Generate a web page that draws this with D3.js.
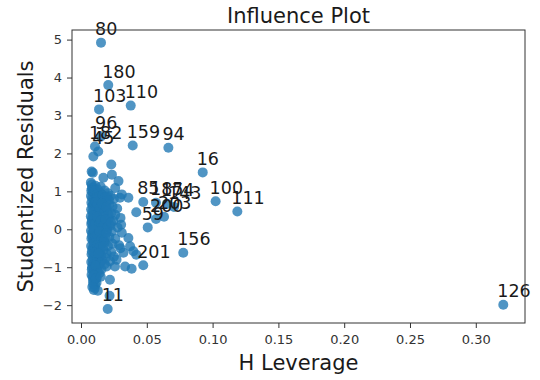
<!DOCTYPE html>
<html><head><meta charset="utf-8">
<script src="https://cdn.jsdelivr.net/npm/d3@7"></script>
<style>body{margin:0;background:#fff} svg{display:block}</style>
</head><body>
<svg id="c" width="540" height="380"></svg>
<script>
// unlabeled observations (H leverage, studentized residual)
const clusterLev = [0.0081,0.0094,0.0090,0.0230,0.0170,0.0235,0.0285,0.0260,0.0310,0.0360,0.0296,0.0420,
0.0075,0.0082,0.0095,0.0110,0.0128,0.0078,0.0088,0.0102,0.0145,0.0180,0.0205,0.0225,0.0250,
0.0076,0.0085,0.0098,0.0115,0.0135,0.0160,0.0190,0.0215,0.0240,0.0275,
0.0079,0.0090,0.0105,0.0122,0.0142,0.0170,0.0200,0.0230,0.0260,0.0300,
0.0077,0.0087,0.0100,0.0113,0.0130,0.0152,0.0178,0.0210,0.0245,
0.0075,0.0084,0.0096,0.0108,0.0120,0.0138,0.0162,0.0190,0.0225,0.0278,0.0305,
0.0078,0.0089,0.0101,0.0117,0.0133,0.0148,0.0172,0.0200,0.0235,0.0310,
0.0076,0.0086,0.0097,0.0110,0.0125,0.0142,0.0165,0.0185,0.0215,0.0260,0.0360,
0.0079,0.0091,0.0104,0.0118,0.0136,0.0155,0.0180,0.0205,0.0240,0.0290,0.0373,
0.0077,0.0088,0.0100,0.0114,0.0128,0.0146,0.0170,0.0195,0.0230,0.0322,0.0398,0.0420,
0.0080,0.0093,0.0106,0.0121,0.0140,0.0160,0.0188,0.0220,
0.0078,0.0090,0.0103,0.0118,0.0135,0.0195,0.0258,0.0335,0.0385,
0.0082,0.0095,0.0110,0.0128,0.0155,0.0088,0.0100,0.0120,0.0220,0.0093,0.0118,0.0105,0.0128,0.0217,
0.0083,0.0092,0.0107,0.0124,0.0139,0.0150,0.0165,0.0183,0.0198,0.0212,
0.0087,0.0099,0.0112,0.0126,0.0143,0.0158,0.0176,0.0193,0.0208,
0.0081,0.0094,0.0108,0.0123,0.0137,0.0151,0.0168,0.0186,0.0202,0.0228,
0.0085,0.0097,0.0111,0.0125,0.0141,0.0157,0.0174,0.0192,
0.0083,0.0096,0.0109,0.0124,0.0139,0.0153,0.0171,0.0089,0.0102,0.0116,0.0132,0.0148,
0.0084,0.0098,0.0112,0.0140,0.0180,0.0250,0.0270,0.0300,
0.0080,0.0091,0.0099,0.0108,0.0113,0.0086,0.0097,0.0150];
const clusterRes = [1.52,1.92,1.49,1.71,1.36,1.44,1.27,1.09,0.92,0.83,0.83,0.45,
1.23,1.18,1.10,1.15,1.05,1.02,0.98,0.94,0.97,1.02,0.95,0.88,0.80,
0.88,0.82,0.78,0.85,0.74,0.80,0.72,0.66,0.60,0.55,
0.70,0.64,0.62,0.58,0.63,0.55,0.50,0.42,0.38,0.30,
0.52,0.46,0.44,0.40,0.45,0.36,0.32,0.28,0.22,
0.34,0.28,0.24,0.30,0.20,0.26,0.18,0.14,0.10,0.05,0.12,
0.14,0.08,0.11,0.04,0.09,0.00,0.03,-0.02,-0.06,-0.09,
-0.04,-0.10,-0.06,-0.14,-0.08,-0.18,-0.12,-0.22,-0.20,-0.25,-0.23,
-0.24,-0.30,-0.26,-0.35,-0.30,-0.40,-0.34,-0.44,-0.38,-0.42,-0.45,
-0.44,-0.50,-0.46,-0.56,-0.50,-0.60,-0.55,-0.64,-0.60,-0.62,-0.58,-0.67,
-0.66,-0.72,-0.68,-0.78,-0.72,-0.82,-0.76,-0.84,
-0.86,-0.92,-0.88,-1.00,-0.94,-0.98,-0.98,-0.98,-1.04,
-1.06,-1.12,-1.18,-1.10,-1.06,-1.26,-1.33,-1.28,-1.33,-1.45,-1.41,-1.55,-1.62,-1.75,
1.08,1.02,1.03,0.92,0.88,1.12,0.90,0.84,0.86,0.77,
0.62,0.70,0.72,0.66,0.55,0.68,0.44,0.58,0.38,
0.20,0.36,0.16,0.33,0.12,0.23,0.08,0.26,0.06,0.18,
-0.18,-0.02,-0.20,-0.16,-0.06,-0.26,-0.30,-0.10,
-0.58,-0.38,-0.52,-0.42,-0.48,-0.70,-0.45,-0.80,-0.62,-0.90,-0.64,-0.88,
-1.00,-1.04,-0.96,-1.16,-0.92,-0.72,-0.80,-0.50,
-1.20,-1.36,-1.22,-1.46,-1.30,-1.52,-1.60,-1.25];

// annotated observations
const labelText = ["80","180","103","110","96","182","45","159","94","16","100","111",
"85","185","174","143","200","203","59","156","201","11","126"];
const labelLev = [0.0152,0.0207,0.0137,0.0378,0.0152,0.0106,0.0131,0.0393,0.0664,0.0925,0.1023,0.1188,
0.0473,0.0570,0.0653,0.0707,0.0570,0.0631,0.0507,0.0777,0.0473,0.0203,0.3209];
const labelRes = [4.92,3.80,3.16,3.26,2.45,2.18,2.05,2.21,2.15,1.50,0.74,0.47,
0.72,0.70,0.67,0.59,0.27,0.33,0.05,-0.62,-0.95,-2.10,-1.99];

const xTicks = [0.00,0.05,0.10,0.15,0.20,0.25,0.30];
const yTicks = [-2,-1,0,1,2,3,4,5];

const box={l:72,r:525,t:30,b:323};
const svg=d3.select("#c");
const x=d3.scaleLinear().domain([-0.00684,0.3374]).range([box.l,box.r]);
const y=d3.scaleLinear().domain([-2.47,5.253]).range([box.b,box.t]);
const font="DejaVu Sans";

const pts = clusterLev.map((v,i)=>({lev:v,res:clusterRes[i]}))
  .concat(labelLev.map((v,i)=>({lev:v,res:labelRes[i],label:labelText[i]})));

svg.append("g").selectAll("circle").data(pts).join("circle")
  .attr("cx",d=>x(d.lev)).attr("cy",d=>y(d.res)).attr("r",5)
  .attr("fill","#1f77b4").attr("fill-opacity",0.78);

svg.append("g").selectAll("text").data(pts.filter(d=>d.label)).join("text")
  .attr("x",d=>x(d.lev)-6).attr("y",d=>y(d.res)-7.5)
  .attr("font-family",font).attr("font-size",17.5).attr("fill","#1a1a1a")
  .text(d=>d.label);

// axes
const xa=svg.append("g").attr("transform",`translate(0,${box.b})`)
  .call(d3.axisBottom(x).tickValues(xTicks).tickFormat(d3.format(".2f")).tickSize(5).tickPadding(7));
const ya=svg.append("g").attr("transform",`translate(${box.l},0)`)
  .call(d3.axisLeft(y).tickValues(yTicks).tickFormat(d3.format("d")).tickSize(5).tickPadding(5));
[xa,ya].forEach(a=>{
  a.select(".domain").remove();
  a.selectAll(".tick line").attr("stroke","#333");
  a.selectAll(".tick text").attr("font-family",font).attr("font-size",13).attr("fill","#333");
});

svg.append("rect").attr("x",box.l).attr("y",box.t).attr("width",box.r-box.l).attr("height",box.b-box.t)
  .attr("fill","none").attr("stroke","#333").attr("stroke-width",1);

svg.append("text").attr("x",(box.l+box.r)/2).attr("y",23).attr("text-anchor","middle")
  .attr("font-family",font).attr("font-size",21).attr("fill","#1a1a1a").text("Influence Plot");
svg.append("text").attr("x",(box.l+box.r)/2).attr("y",370).attr("text-anchor","middle")
  .attr("font-family",font).attr("font-size",21).attr("fill","#1a1a1a").text("H Leverage");
svg.append("text").attr("transform",`translate(33,${(box.t+box.b)/2}) rotate(-90)`).attr("text-anchor","middle")
  .attr("font-family",font).attr("font-size",21).attr("fill","#1a1a1a").text("Studentized Residuals");
</script>
</body></html>
